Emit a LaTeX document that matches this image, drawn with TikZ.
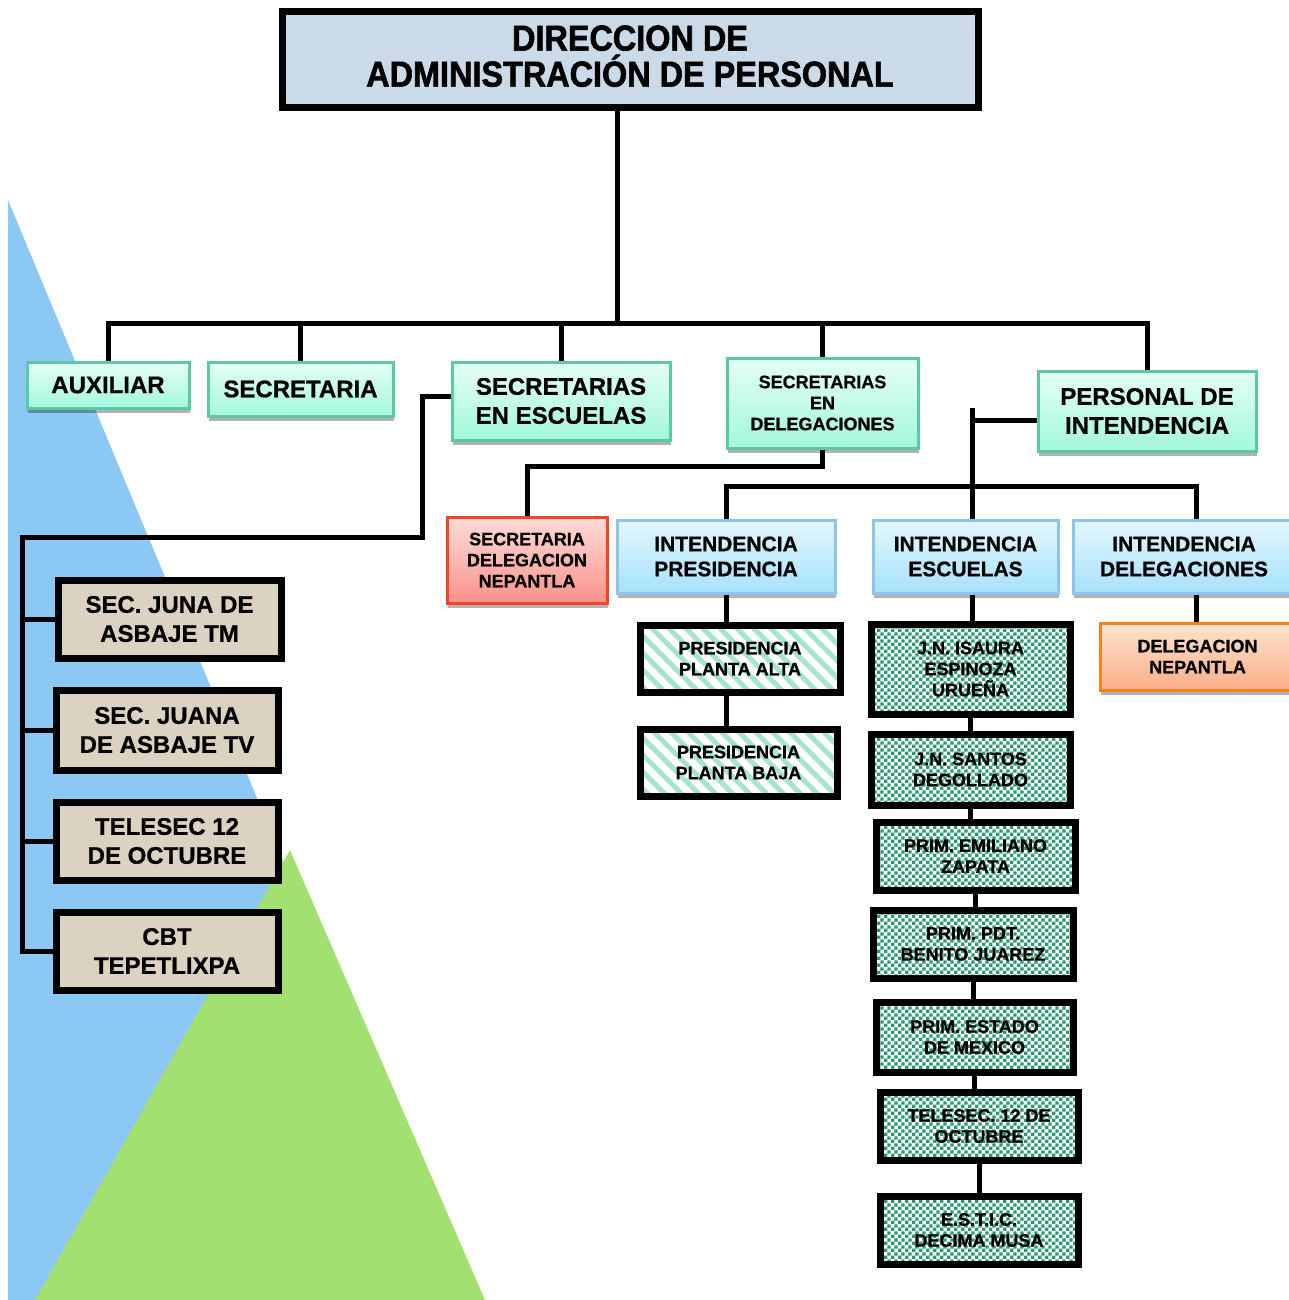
\documentclass[tikz,border=0pt]{standalone}
\usepackage{fontspec}
\setmainfont{Liberation Sans}[BoldFeatures={FakeBold=0.8}]
\newfontfamily\titlefont{Liberation Sans}[FakeStretch=0.9,BoldFeatures={FakeBold=1.6}]
\usetikzlibrary{shadows,patterns,patterns.meta}

\definecolor{skyblue}{HTML}{8CC8F4}
\definecolor{grassgreen}{HTML}{A3E072}
\definecolor{tealline}{HTML}{5CC8A8}
\definecolor{tealtop}{HTML}{E6FFF6}
\definecolor{tealbot}{HTML}{A2F8DC}
\definecolor{blueline}{HTML}{8CC4EE}
\definecolor{bluetop}{HTML}{E4F7FF}
\definecolor{bluebot}{HTML}{A6E2FA}
\definecolor{redline}{HTML}{F24426}
\definecolor{redtop}{HTML}{FFDCD8}
\definecolor{redbot}{HTML}{F9928A}
\definecolor{orangeline}{HTML}{F8801E}
\definecolor{orangetop}{HTML}{FDE4D2}
\definecolor{orangebot}{HTML}{FBAE86}
\definecolor{titlefill}{HTML}{CBDAE8}
\definecolor{paper}{HTML}{DCD2C2}
\definecolor{stripe}{HTML}{A6E4D2}
\definecolor{checker}{HTML}{2A9874}

% small checker tile
\pgfdeclarepatternformonly{finechecker}{\pgfpointorigin}{\pgfqpoint{3.4pt}{3.4pt}}{\pgfqpoint{3.4pt}{3.4pt}}{%
  \pgfpathrectangle{\pgfpointorigin}{\pgfqpoint{1.7pt}{1.7pt}}%
  \pgfpathrectangle{\pgfqpoint{1.7pt}{1.7pt}}{\pgfqpoint{1.7pt}{1.7pt}}%
  \pgfusepath{fill}}

\tikzset{
  conn/.style={line width=2.5pt},
  shadowed/.style={drop shadow={shadow xshift=0.5pt,shadow yshift=-2.5pt,opacity=.3,fill=black}},
  unit/.style={align=center, inner sep=0pt, font=\bfseries},
  tealunit/.style={unit, shadowed, draw=tealline, line width=1.5pt, top color=tealtop, bottom color=tealbot},
  blueunit/.style={unit, shadowed, draw=blueline, line width=1.5pt, top color=bluetop, bottom color=bluebot},
  redunit/.style={unit, shadowed, draw=redline, line width=1.5pt, top color=redtop, bottom color=redbot},
  orangeunit/.style={unit, shadowed, draw=orangeline, line width=1.5pt, top color=orangetop, bottom color=orangebot},
  heavy/.style={unit, draw=black, line width=3.5pt},
  titleunit/.style={heavy, fill=titlefill, font={\titlefont\bfseries\fontsize{18}{18}\selectfont}},
  stripeunit/.style={heavy, preaction={fill=white}, pattern={Lines[angle=-45,distance=6pt,line width=2.5pt]}, pattern color=stripe},
  checkunit/.style={heavy, preaction={fill=white}, pattern=finechecker, pattern color=checker},
  paperunit/.style={heavy, fill=paper},
  bigtext/.style={font=\fontsize{12}{14.5}\selectfont\bfseries},
  midtext/.style={font=\fontsize{10.5}{12.5}\selectfont\bfseries},
  smalltext/.style={font=\fontsize{9}{10.5}\selectfont\bfseries},
}

\begin{document}
\begin{tikzpicture}[x=0.5pt,y=-0.5pt]
  \useasboundingbox (0,0) rectangle (1289,1300);
  % background
  \fill[skyblue] (8,200) -- (8,1300) -- (466,1300) -- cycle;
  \fill[grassgreen] (290,850) -- (35,1300) -- (485,1300) -- cycle;

  % head
  \node[titleunit, minimum width=348pt, minimum height=48pt] (dir) at (630,60) {DIRECCION DE\\ADMINISTRACIÓN DE PERSONAL\\[-14pt]};

  % first level
  \node[tealunit, bigtext, minimum width=81pt, minimum height=23pt] (aux) at (108,385) {AUXILIAR};
  \node[tealunit, bigtext, minimum width=92.5pt, minimum height=27pt] (sec) at (300.5,389) {SECRETARIA};
  \node[tealunit, bigtext, minimum width=109pt, minimum height=39pt] (secesc) at (561,401) {SECRETARIAS\\EN ESCUELAS};
  \node[tealunit, smalltext, minimum width=95.5pt, minimum height=45pt] (secdel) at (822.5,403) {SECRETARIAS\\EN\\DELEGACIONES};
  \node[tealunit, bigtext, minimum width=109pt, minimum height=40pt] (persint) at (1147,411) {PERSONAL DE\\INTENDENCIA};

  % second level
  \node[redunit, smalltext, minimum width=80pt, minimum height=43pt] (secnep) at (527,560) {SECRETARIA\\DELEGACION\\NEPANTLA};
  \node[blueunit, midtext, minimum width=109pt, minimum height=36.5pt] (intpre) at (726,556.5) {INTENDENCIA\\PRESIDENCIA};
  \node[blueunit, midtext, minimum width=92.5pt, minimum height=36.5pt] (intesc) at (965.5,556.5) {INTENDENCIA\\ESCUELAS};
  \node[blueunit, midtext, minimum width=111pt, minimum height=36.5pt] (intdel) at (1184,556.5) {INTENDENCIA\\DELEGACIONES};
  \node[orangeunit, smalltext, minimum width=97.5pt, minimum height=33.5pt] (delnep) at (1197.5,656.5) {DELEGACION\\NEPANTLA};

  % presidencia
  \node[stripeunit, smalltext, minimum width=100pt, minimum height=33.5pt] (ppa) at (740,658.5) {PRESIDENCIA\\PLANTA ALTA};
  \node[stripeunit, smalltext, minimum width=98.5pt, minimum height=33.5pt] (ppb) at (738.5,762.5) {PRESIDENCIA\\PLANTA BAJA};

  % escuelas
  \node[checkunit, smalltext, minimum width=99.5pt, minimum height=45pt] (jni) at (970.5,669) {J.N. ISAURA\\ESPINOZA\\URUEÑA};
  \node[checkunit, smalltext, minimum width=99.5pt, minimum height=35.5pt] (jns) at (970.5,769.5) {J.N. SANTOS\\DEGOLLADO};
  \node[checkunit, smalltext, minimum width=99.5pt, minimum height=34pt] (pez) at (975.5,856) {PRIM. EMILIANO\\ZAPATA};
  \node[checkunit, smalltext, minimum width=100pt, minimum height=34pt] (pbj) at (973,944) {PRIM. PDT.\\BENITO JUAREZ};
  \node[checkunit, smalltext, minimum width=98.5pt, minimum height=35pt] (pem) at (974.5,1037) {PRIM. ESTADO\\DE MEXICO};
  \node[checkunit, smalltext, minimum width=99pt, minimum height=34pt] (tel) at (979,1126) {TELESEC. 12 DE\\OCTUBRE};
  \node[checkunit, smalltext, minimum width=99pt, minimum height=34pt] (est) at (979,1230) {E.S.T.I.C.\\DECIMA MUSA};

  % secundarias
  \node[paperunit, bigtext, minimum width=111.5pt, minimum height=39pt] (sjt) at (169.5,619) {SEC. JUNA DE\\ASBAJE TM};
  \node[paperunit, bigtext, minimum width=111pt, minimum height=40pt] (sjv) at (167,730) {SEC. JUANA\\DE ASBAJE TV};
  \node[paperunit, bigtext, minimum width=111pt, minimum height=39pt] (tls) at (167,841) {TELESEC 12\\DE OCTUBRE};
  \node[paperunit, bigtext, minimum width=111pt, minimum height=39pt] (cbt) at (167,951) {CBT\\TEPETLIXPA};

  % lines
  \coordinate (bus) at (617,323);
  \draw[conn] (bus |- dir.south) -- (bus);
  \draw[conn] (aux.north) |- (bus) -| (persint.north);
  \foreach \n in {sec,secesc,secdel}
    \draw[conn] (\n.north |- bus) -- (\n.north);

  \coordinate (escout) at (0,396);
  \coordinate (escknee) at (422,537);
  \coordinate (lrail) at (22,537);
  \draw[conn] (secesc.west |- escout) -| (escknee) -- (lrail) |- (cbt.west);
  \foreach \n in {sjt,sjv,tls}
    \draw[conn] (lrail |- \n.west) -- (\n.west);

  \coordinate (delknee) at (0,466);
  \draw[conn] (secdel.south) |- (secnep.north |- delknee) -- (secnep.north);

  \coordinate (ijoin) at (972,420);
  \coordinate (istub) at (972,408);
  \coordinate (ibus) at (0,486);
  \coordinate (drail) at (1196,0);
  \draw[conn] (persint.west |- ijoin) -- (ijoin);
  \draw[conn] (istub) -- (istub |- intesc.north);
  \draw[conn] (intpre.north) |- (ibus -| drail) -- (drail |- intdel.north);
  \draw[conn] (drail |- intdel.south) -- (drail |- delnep.north);
  \draw[conn] (intpre.south) -- (intpre.south |- ppa.north);
  \draw[conn] (ppa.south -| intpre.south) -- (ppb.north -| intpre.south);

  \draw[conn] (istub |- intesc.south) -- (istub |- jni.north);
  \foreach \a/\b in {jni/jns,jns/pez,pez/pbj,pbj/pem,pem/tel,tel/est}
    \draw[conn] (\a.south) -- (\a.south |- \b.north);
\end{tikzpicture}
\end{document}
